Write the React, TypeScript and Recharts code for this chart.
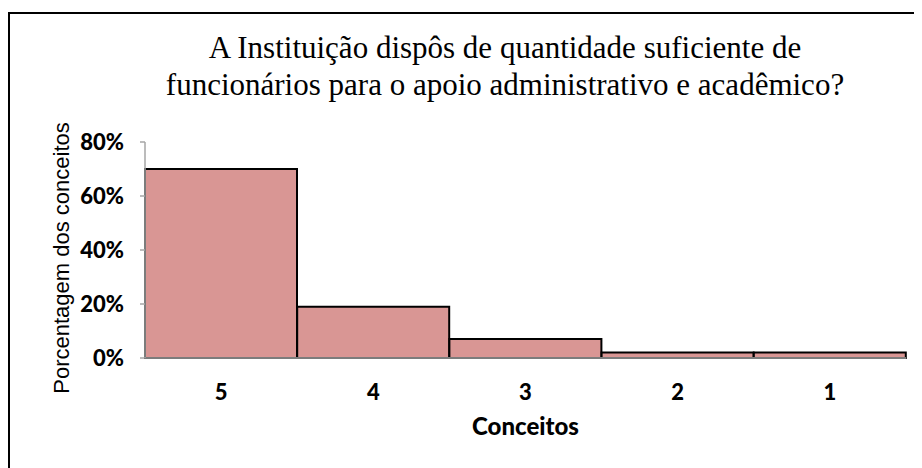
import { BarChart, Bar, XAxis, YAxis, Label } from "recharts";

const conceitos = ["5", "4", "3", "2", "1"];
const porcentagem = [70, 19, 7, 2, 2];
const yTicks = [0, 20, 40, 60, 80];
const tituloLinhas = [
  "A Instituição dispôs de quantidade suficiente de",
  "funcionários para o apoio administrativo e acadêmico?",
];

const data = conceitos.map((c, i) => ({ name: c, valor: porcentagem[i] }));

const tickFont = { fontFamily: "Lato", fontWeight: 900, fontSize: 22, fill: "#000" };

// rótulo vertical do eixo Y
const RotuloY = (props: any) => {
  const { viewBox } = props;
  const x = viewBox.x + 53;
  const y = viewBox.y + viewBox.height / 2 + 8;
  return (
    <text
      x={x}
      y={y}
      transform={`rotate(-90, ${x}, ${y})`}
      textAnchor="middle"
      dominantBaseline="central"
      fontFamily="'Liberation Sans', Arial, sans-serif"
      fontSize={22}
      fill="#000"
    >
      Porcentagem dos conceitos
    </text>
  );
};

const App = () => {
  return (
    <div style={{ position: "relative", width: 914, height: 460 }}>
      {/* moldura do gráfico */}
      <div
        style={{
          position: "absolute",
          left: 0,
          top: 4,
          width: 940,
          height: 480,
          borderLeft: "2px solid #000",
          borderTop: "2px solid #000",
        }}
      />
      <div
        style={{
          position: "absolute",
          left: 0,
          top: 21,
          width: 994,
          textAlign: "center",
          fontFamily: "'Liberation Serif', serif",
          fontSize: 31,
          lineHeight: "37px",
          color: "#000",
        }}
      >
        {tituloLinhas.map((l) => (
          <div key={l}>{l}</div>
        ))}
      </div>
      <div style={{ position: "absolute", left: 0, top: 0 }}>
        <BarChart
          width={914}
          height={460}
          data={data}
          barCategoryGap={0}
          margin={{ top: 134, right: 16, bottom: 30, left: 0 }}
        >
          <XAxis
            dataKey="name"
            height={80}
            tickLine={false}
            axisLine={{ stroke: "#a6a6a6", strokeWidth: 1.5 }}
            tickMargin={20}
            tick={tickFont}
          >
            <Label
              value="Conceitos"
              position="insideBottom"
              offset={3}
              style={{ ...tickFont, fontSize: 24, textAnchor: "middle" }}
            />
          </XAxis>
          <YAxis
            width={137}
            domain={[0, 80]}
            ticks={yTicks}
            interval={0}
            tickFormatter={(v) => `${v}%`}
            tickSize={5}
            tickMargin={16}
            axisLine={{ stroke: "#a6a6a6", strokeWidth: 1.5 }}
            tickLine={{ stroke: "#a6a6a6", strokeWidth: 1.5 }}
            tick={tickFont}
          >
            <Label content={<RotuloY />} />
          </YAxis>
          <Bar
            dataKey="valor"
            fill="#d99694"
            stroke="#000"
            strokeWidth={2}
            isAnimationActive={false}
          />
        </BarChart>
      </div>
    </div>
  );
};

export default App;
